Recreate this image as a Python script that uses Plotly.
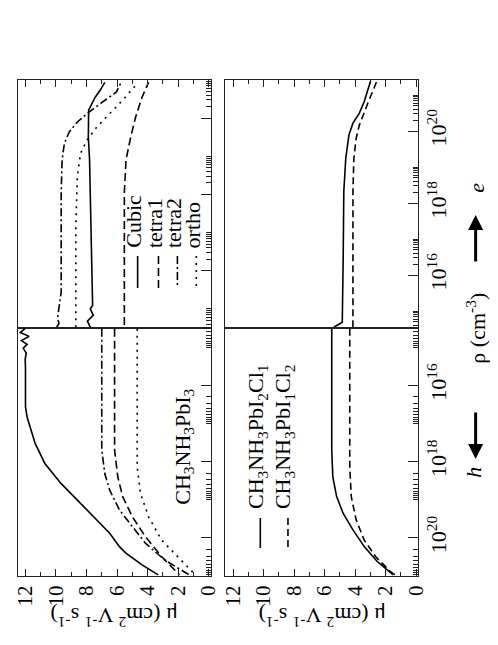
import plotly.graph_objects as go

W, H = 498, 645
FONT = "Liberation Serif"

# ---------------- data (log10 of carrier density in cm^-3, mobility in cm^2 V^-1 s^-1)
# Upper frame: CH3NH3PbI3, electron side
e_cubic_lr = [14.52, 14.68, 14.83, 15.0, 15.09, 15.53, 16.83, 18.13, 18.91, 19.5, 20.21, 20.55, 20.73, 20.94]
e_cubic_mu = [7.75, 7.94, 7.56, 7.75, 7.6, 7.62, 7.69, 7.75, 7.8, 7.88, 7.86, 7.43, 7.11, 6.8]
e_tetra1_lr = [14.58, 16.0, 18.05, 18.91, 19.51, 20.03, 20.55, 20.94]
e_tetra1_mu = [5.52, 5.52, 5.52, 5.41, 5.1, 4.78, 4.36, 3.93]
e_tetra2_lr = [14.52, 14.62, 14.75, 15.45, 18.05, 18.9, 19.34, 19.64, 19.9, 20.12, 20.38, 20.68, 20.94]
e_tetra2_mu = [9.95, 9.8, 9.9, 9.66, 9.66, 9.6, 9.45, 9.13, 8.6, 7.96, 7.1, 6.05, 5.73]
e_ortho_lr = [14.52, 17.18, 18.48, 19.08, 19.43, 19.77, 20.12, 20.47, 20.9]
e_ortho_mu = [8.7, 8.7, 8.6, 8.39, 7.96, 7.32, 6.48, 5.63, 4.68]
# Upper frame: CH3NH3PbI3, hole side
h_cubic_lr = [14.51, 14.62, 14.72, 14.83, 14.93, 15.03, 15.16, 15.32, 15.53, 16.57, 16.84, 17.1, 17.53,
              18.05, 18.58, 19.01, 19.45, 19.88, 20.23, 20.4, 20.71, 20.97]
h_cubic_mu = [12.02, 12.34, 11.76, 12.27, 11.89, 12.15, 11.95, 12.02, 12.0, 12.0, 11.89, 11.7, 11.36,
              10.73, 9.66, 8.6, 7.54, 6.48, 5.84, 5.42, 4.36, 3.3]
h_tetra1_lr = [14.52, 17.7, 18.4, 18.92, 19.45, 19.97, 20.49, 20.97]
h_tetra1_mu = [6.16, 6.16, 5.95, 5.63, 4.99, 4.14, 3.08, 1.91]
h_tetra2_lr = [14.52, 17.7, 18.32, 18.75, 19.27, 19.71, 20.14, 20.58, 20.97]
h_tetra2_mu = [7.0, 7.0, 6.8, 6.48, 5.84, 4.99, 4.14, 2.87, 1.27]
h_ortho_lr = [14.52, 18.14, 18.84, 19.45, 20.06, 20.49, 20.93]
h_ortho_mu = [4.68, 4.68, 4.46, 3.93, 3.08, 2.02, 0.96]
# Lower frame: mixed halides, electron side
e_cl1_lr = [14.55, 14.69, 16.47, 18.33, 19.25, 19.9, 20.22, 20.5, 20.82, 21.1, 21.4]
e_cl1_mu = [5.4, 4.84, 4.78, 4.74, 4.61, 4.4, 4.14, 3.72, 3.4, 3.19, 2.98]
e_cl2_lr = [14.55, 18.33, 19.25, 19.8, 20.17, 20.55, 20.87, 21.19, 21.42]
e_cl2_mu = [4.14, 4.14, 4.08, 3.93, 3.72, 3.4, 3.08, 2.76, 2.55]
# Lower frame: mixed halides, hole side
h_cl1_lr = [14.52, 17.7, 18.4, 18.92, 19.36, 19.79, 20.23, 20.62, 20.97]
h_cl1_mu = [5.53, 5.53, 5.46, 5.21, 4.78, 4.14, 3.4, 2.55, 1.5]
h_cl2_lr = [14.52, 18.14, 18.92, 19.53, 20.06, 20.49, 20.88, 20.97]
h_cl2_mu = [4.35, 4.35, 4.25, 3.93, 3.4, 2.66, 1.7, 1.38]

series_top = ["Cubic", "tetra1", "tetra2", "ortho"]
series_bot = ["CH<sub>3</sub>NH<sub>3</sub>PbI<sub>2</sub>Cl<sub>1</sub>",
              "CH<sub>3</sub>NH<sub>3</sub>PbI<sub>1</sub>Cl<sub>2</sub>"]
rho_tick_exp = [16, 18, 20]
mu_range = [12.5, -0.15]

DASH = {"solid": "solid", "dash": "8px,4px", "dashdot": "8px,3px,2px,3px",
        "dot": "2px,5px", "dash2": "7px,4px"}
LW = 1.6


def rho(lr):
    return [10 ** v for v in lr]


fig = go.Figure()


def add(lr, mu, xa, ya, dash):
    fig.add_trace(go.Scatter(x=mu, y=rho(lr), xaxis=xa, yaxis=ya, mode="lines",
                             line=dict(color="black", width=LW, dash=DASH[dash]),
                             showlegend=False, hoverinfo="skip"))


add(e_cubic_lr, e_cubic_mu, "x", "y", "solid")
add(e_tetra1_lr, e_tetra1_mu, "x", "y", "dash")
add(e_tetra2_lr, e_tetra2_mu, "x", "y", "dashdot")
add(e_ortho_lr, e_ortho_mu, "x", "y", "dot")
add(h_cubic_lr, h_cubic_mu, "x2", "y2", "solid")
add(h_tetra1_lr, h_tetra1_mu, "x2", "y2", "dash")
add(h_tetra2_lr, h_tetra2_mu, "x2", "y2", "dashdot")
add(h_ortho_lr, h_ortho_mu, "x2", "y2", "dot")
add(e_cl1_lr, e_cl1_mu, "x3", "y3", "solid")
add(e_cl2_lr, e_cl2_mu, "x3", "y3", "dash2")
add(h_cl1_lr, h_cl1_mu, "x4", "y4", "solid")
add(h_cl2_lr, h_cl2_mu, "x4", "y4", "dash2")

AX = "#222222"
dom_left = [5 / W, 204 / W]
dom_right = [219 / W, 418 / W]
dom_e = [1 - 320 / H, 1 - 72 / H]
dom_h = [1 - 568 / H, 1 - 320 / H]


def xax(domain, anchor, side, labels):
    return dict(domain=domain, anchor=anchor, side=side, range=mu_range,
                tickmode="linear", tick0=0, dtick=2, ticks="inside", ticklen=7,
                tickwidth=1, tickcolor=AX, showticklabels=labels, tickangle=-90,
                tickfont=dict(family=FONT, size=21, color="black"),
                showline=True, linecolor=AX, linewidth=1.2, mirror=True,
                showgrid=False, zeroline=False,
                minor=dict(tickmode="linear", tick0=0, dtick=1, ticks="inside",
                           ticklen=4, tickwidth=1, tickcolor=AX, showgrid=False))


minor_vals = [k * 10.0 ** n for n in (14, 16, 18, 20) for k in range(2, 11)]


def yax(domain, anchor, rng, labels):
    return dict(domain=domain, anchor=anchor, side="right", type="log", range=rng,
                tickmode="array", tickvals=[10.0 ** e for e in rho_tick_exp],
                ticktext=["10<sup>%d</sup>" % e for e in rho_tick_exp],
                showticklabels=labels, tickangle=-90,
                tickfont=dict(family=FONT, size=22, color="black"),
                ticks="inside", ticklen=10, tickwidth=1, tickcolor=AX,
                showline=True, linecolor=AX, linewidth=1.2, mirror=True,
                showgrid=False, zeroline=False,
                minor=dict(tickmode="array", tickvals=minor_vals, ticks="inside",
                           ticklen=5, tickwidth=1, tickcolor=AX, showgrid=False))


fig.update_layout(
    width=W, height=H, margin=dict(l=0, r=0, t=0, b=0),
    paper_bgcolor="white", plot_bgcolor="white", showlegend=False,
    font=dict(family=FONT, color="black"),
    xaxis=xax(dom_left, "y", "top", False),
    xaxis2=xax(dom_left, "y2", "bottom", True),
    xaxis3=xax(dom_right, "y3", "top", False),
    xaxis4=xax(dom_right, "y4", "bottom", True),
    yaxis=yax(dom_e, "x", [14.5, 21.0], False),
    yaxis2=yax(dom_h, "x2", [21.0, 14.5], False),
    yaxis3=yax(dom_e, "x3", [14.53, 21.42], True),
    yaxis4=yax(dom_h, "x4", [21.0, 14.5], True),
)


def ann(text, x, y, angle=-90, size=22, xanchor="center", yanchor="middle"):
    return dict(text=text, x=x / W, y=1 - y / H, xref="paper", yref="paper",
                showarrow=False, textangle=angle, xanchor=xanchor, yanchor=yanchor,
                font=dict(family=FONT, size=size, color="black"))


mu_title = "μ (cm<sup>2</sup> V<sup>-1</sup> s<sup>-1</sup>)"
annotations = [
    ann(mu_title, 104.5, 609, angle=180),
    ann(mu_title, 318.5, 609, angle=180),
    ann("ρ (cm<sup>-3</sup>)", 477, 320),
    ann("<i>e</i>", 477, 180),
    ann("<i>h</i>", 474, 464),
    ann("CH<sub>3</sub>NH<sub>3</sub>PbI<sub>3</sub>", 176, 439),
]
# legend labels (upper frame)
for name, xc in zip(series_top, [124, 145.5, 165, 185]):
    annotations.append(ann(name, xc, 242, yanchor="bottom"))
# legend labels (lower frame)
for name, xc in zip(series_bot, [251, 279]):
    annotations.append(ann(name, xc, 503, yanchor="bottom"))
# arrows next to the density axis title
annotations.append(dict(text="", x=477 / W, y=1 - 207 / H, xref="paper", yref="paper",
                        showarrow=True, ax=0, ay=48, axref="pixel", ayref="pixel",
                        arrowhead=2, arrowsize=1, arrowwidth=3, arrowcolor="black", standoff=0))
annotations.append(dict(text="", x=477 / W, y=1 - 451 / H, xref="paper", yref="paper",
                        showarrow=True, ax=0, ay=-48, axref="pixel", ayref="pixel",
                        arrowhead=2, arrowsize=1, arrowwidth=3, arrowcolor="black", standoff=0))
fig.update_layout(annotations=annotations)

# legend line samples
shapes = []
for dash, xc in zip(["solid", "dash", "dashdot", "dot"], [128.5, 150, 169.5, 189]):
    shapes.append(dict(type="line", xref="paper", yref="paper", x0=xc / W, x1=xc / W,
                       y0=1 - 248 / H, y1=1 - 280 / H,
                       line=dict(color="black", width=LW, dash=DASH[dash])))
for dash, xc in zip(["solid", "dash2"], [255, 283.5]):
    shapes.append(dict(type="line", xref="paper", yref="paper", x0=xc / W, x1=xc / W,
                       y0=1 - 510 / H, y1=1 - 540 / H,
                       line=dict(color="black", width=LW, dash=DASH[dash])))
fig.update_layout(shapes=shapes)

fig.write_html("out.html")
